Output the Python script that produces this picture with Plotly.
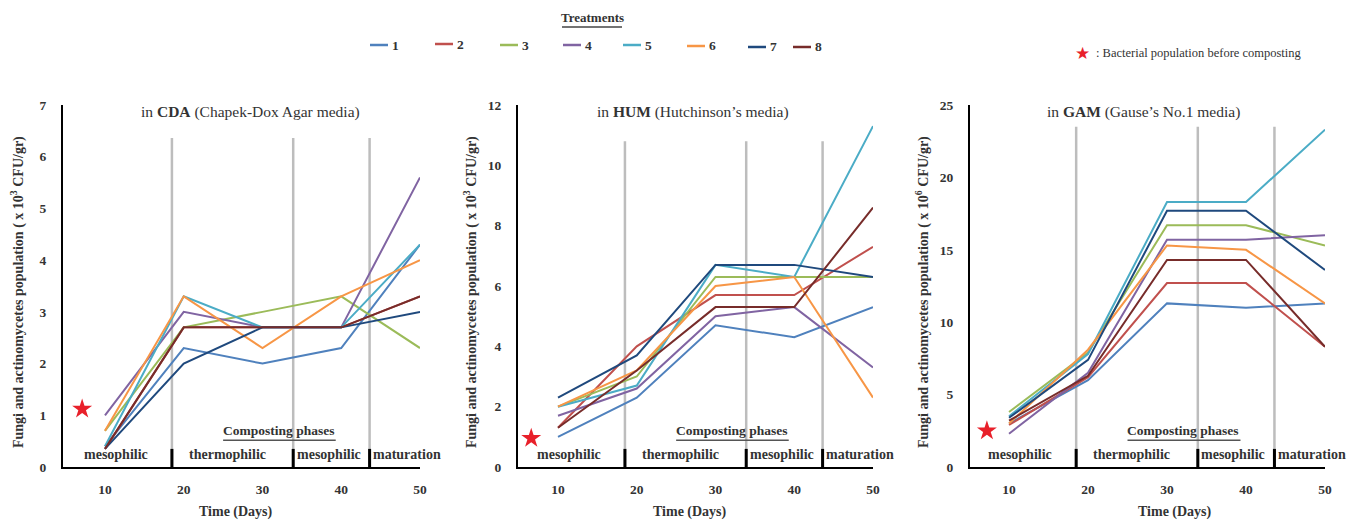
import plotly.graph_objects as go

W, H = 1359, 522

days = [10, 20, 30, 40, 50]
treatments = ["1", "2", "3", "4", "5", "6", "7", "8"]
colors = ["#4F81BD", "#C0504D", "#9BBB59", "#8064A2", "#4BACC6", "#F79646", "#1F497D", "#772C2A"]

# values per treatment (rows) at days 10..50
cda_values = [
    [0.4, 2.3, 2.0, 2.3, 4.3],
    [0.35, 2.7, 2.7, 2.7, 3.3],
    [0.7, 2.7, 3.0, 3.3, 2.3],
    [1.0, 3.0, 2.7, 2.7, 5.6],
    [0.4, 3.3, 2.7, 2.7, 4.3],
    [0.7, 3.3, 2.3, 3.3, 4.0],
    [0.35, 2.0, 2.7, 2.7, 3.0],
    [0.35, 2.7, 2.7, 2.7, 3.3],
]
hum_values = [
    [1.0, 2.3, 4.7, 4.3, 5.3],
    [1.3, 4.0, 5.7, 5.7, 7.3],
    [2.0, 3.0, 6.3, 6.3, 6.3],
    [1.7, 2.6, 5.0, 5.3, 3.3],
    [2.0, 2.7, 6.7, 6.3, 11.3],
    [2.0, 3.2, 6.0, 6.3, 2.3],
    [2.3, 3.7, 6.7, 6.7, 6.3],
    [1.3, 3.2, 5.3, 5.3, 8.6],
]
gam_values = [
    [3.0, 6.0, 11.3, 11.0, 11.3],
    [2.9, 6.2, 12.7, 12.7, 8.3],
    [3.8, 7.9, 16.7, 16.7, 15.3],
    [2.3, 6.5, 15.7, 15.7, 16.0],
    [3.5, 7.8, 18.3, 18.3, 23.3],
    [3.0, 8.1, 15.3, 15.0, 11.3],
    [3.4, 7.4, 17.7, 17.7, 13.6],
    [3.2, 6.3, 14.3, 14.3, 8.3],
]
# bacterial population before composting (star)
star_x = [7.1, 6.6, 7.2]
star_y = [1.12, 0.95, 2.5]

phase_bounds = [18.5, 33.9, 43.6]
phase_names = ["mesophilic", "thermophilic", "mesophilic", "maturation"]
phase_label_x = [11.4, 25.5, 38.4, 48.3]

panel_titles = ["in <b>CDA</b> (Chapek-Dox Agar media)",
                "in <b>HUM</b> (Hutchinson\u2019s media)",
                "in <b>GAM</b> (Gause\u2019s No.1 media)"]
y_titles = ["Fungi and actinomycetes population ( x 10<sup>3</sup> CFU/gr)",
            "Fungi and actinomycetes population ( x 10<sup>3</sup> CFU/gr)",
            "Fungi and actinomycetes population ( x 10<sup>6</sup> CFU/gr)"]
y_ranges = [[0, 7], [0, 12], [0, 25]]
y_dticks = [1, 2, 5]
gray_tops = [6.36, 10.8, 23.5]

# layout geometry (pixels)
x_px = [(63, 420), (518, 873), (970, 1325)]
x_ranges = [[4.67, 50], [4.92, 50], [5.06, 50]]
y_top, y_bot = 105, 467
ytitle_px = [17, 470, 922]
title_cx = [250, 693, 1143]
xtitle_cx = [236, 690, 1175]
legend_line_x0 = [370, 435, 500, 563, 623, 687, 748, 793]
legend_y = [45, 44, 45, 45, 45, 46, 47, 47]

FONT = "Liberation Serif"
TXT = "#333333"
all_values = [cda_values, hum_values, gam_values]


def px(xp):
    return xp / W


def py(yp):
    return 1 - yp / H


fig = go.Figure()
shapes = []
annotations = []

for p in range(3):
    xa = "x" if p == 0 else f"x{p+1}"
    ya = "y" if p == 0 else f"y{p+1}"
    for b in phase_bounds:
        shapes.append(dict(type="line", xref=xa, yref=ya, x0=b, x1=b, y0=0, y1=gray_tops[p],
                           line=dict(color="#BDBDBD", width=2.5), layer="below"))
        shapes.append(dict(type="line", xref=xa, yref=f"{ya} domain", x0=b, x1=b, y0=0, y1=0.05,
                           line=dict(color="black", width=3)))
    for i, t in enumerate(treatments):
        fig.add_trace(go.Scatter(
            x=days, y=all_values[p][i], mode="lines", name=t,
            line=dict(color=colors[i], width=2), xaxis=xa, yaxis=ya, showlegend=False))
    fig.add_trace(go.Scatter(
        x=[star_x[p]], y=[star_y[p]], mode="markers",
        marker=dict(symbol="star", size=15, color="#E8202A", line=dict(width=0)),
        xaxis=xa, yaxis=ya, showlegend=False))

    # phase labels
    for k, nm in enumerate(phase_names):
        annotations.append(dict(x=phase_label_x[k], y=0.0, xref=xa, yref=f"{ya} domain",
                                xanchor="center", yanchor="bottom", yshift=3, text=f"<b>{nm}</b>",
                                showarrow=False, font=dict(family=FONT, size=14, color=TXT)))
    annotations.append(dict(x=32, y=0.1, xref=xa, yref=f"{ya} domain", xanchor="center", yanchor="middle",
                            text="<b>Composting phases</b>", showarrow=False,
                            font=dict(family=FONT, size=13.5, color=TXT)))
    shapes.append(dict(type="line", xref=xa, yref=f"{ya} domain", x0=25, x1=39.3, y0=0.074, y1=0.074,
                       line=dict(color="#555", width=1.5)))
    annotations.append(dict(x=px(title_cx[p]), y=py(112), xref="paper", yref="paper",
                            text=panel_titles[p], showarrow=False, xanchor="center", yanchor="middle",
                            font=dict(family=FONT, size=15.5, color=TXT)))
    annotations.append(dict(x=px(ytitle_px[p]), y=py(292), xref="paper", yref="paper",
                            text=f"<b>{y_titles[p]}</b>", textangle=-90, showarrow=False,
                            xanchor="center", yanchor="middle",
                            font=dict(family=FONT, size=14, color=TXT)))
    annotations.append(dict(x=px(xtitle_cx[p]), y=py(512), xref="paper", yref="paper",
                            text="<b>Time (Days)</b>", showarrow=False, xanchor="center", yanchor="middle",
                            font=dict(family=FONT, size=14, color=TXT)))

    axis_font = dict(family=FONT, size=13.5, color=TXT)
    xkey = "xaxis" if p == 0 else f"xaxis{p+1}"
    ykey = "yaxis" if p == 0 else f"yaxis{p+1}"
    fig.update_layout(**{
        xkey: dict(domain=[px(x_px[p][0]), px(x_px[p][1])], range=x_ranges[p], anchor=ya,
                   tickvals=days, ticktext=[f"<b>{d}</b>" for d in days], showgrid=False,
                   zeroline=False, showline=True, linecolor="black", linewidth=2,
                   ticks="", ticklabelstandoff=9, tickfont=axis_font, fixedrange=True),
        ykey: dict(domain=[py(y_bot), py(y_top)], range=y_ranges[p], anchor=xa,
                   dtick=y_dticks[p], tick0=0, showgrid=False, zeroline=False, showline=True,
                   linecolor="black", linewidth=2, ticks="", ticklabelstandoff=12,
                   tickfont=axis_font, tickprefix="<b>", ticksuffix="</b>", fixedrange=True),
    })

# legend (Treatments), built from the treatment names and colours
annotations.append(dict(x=px(592), y=py(18), xref="paper", yref="paper", text="<b>Treatments</b>",
                        xanchor="center", yanchor="middle", showarrow=False,
                        font=dict(family=FONT, size=13, color=TXT)))
shapes.append(dict(type="line", xref="paper", yref="paper", x0=px(562), x1=px(622), y0=py(27), y1=py(27),
                   line=dict(color="#444", width=1.5)))
for i, t in enumerate(treatments):
    x0 = legend_line_x0[i]
    shapes.append(dict(type="line", xref="paper", yref="paper", x0=px(x0), x1=px(x0 + 18),
                       y0=py(legend_y[i]), y1=py(legend_y[i]), line=dict(color=colors[i], width=2.5)))
    annotations.append(dict(x=px(x0 + 20), y=py(legend_y[i]), xref="paper", yref="paper",
                            text=f"<b>{t}</b>", xanchor="left", yanchor="middle", showarrow=False,
                            font=dict(family=FONT, size=13.5, color=TXT)))

# star note
annotations.append(dict(x=px(1082), y=py(53), xref="paper", yref="paper", xanchor="center", yanchor="middle",
                        text="\u2605", showarrow=False, font=dict(family="DejaVu Sans", size=17, color="#E8202A")))
annotations.append(dict(x=px(1094), y=py(53), xref="paper", yref="paper", xanchor="left", yanchor="middle",
                        text=": Bacterial population before composting",
                        showarrow=False, font=dict(family=FONT, size=12.5, color=TXT)))

fig.update_layout(
    width=W, height=H, margin=dict(l=0, r=0, t=0, b=0, autoexpand=False),
    paper_bgcolor="white", plot_bgcolor="white", showlegend=False,
    shapes=shapes, annotations=annotations,
)

fig.write_html("out.html", config={"displayModeBar": False},
               post_script="document.body.style.margin='0';document.body.style.padding='0';")
